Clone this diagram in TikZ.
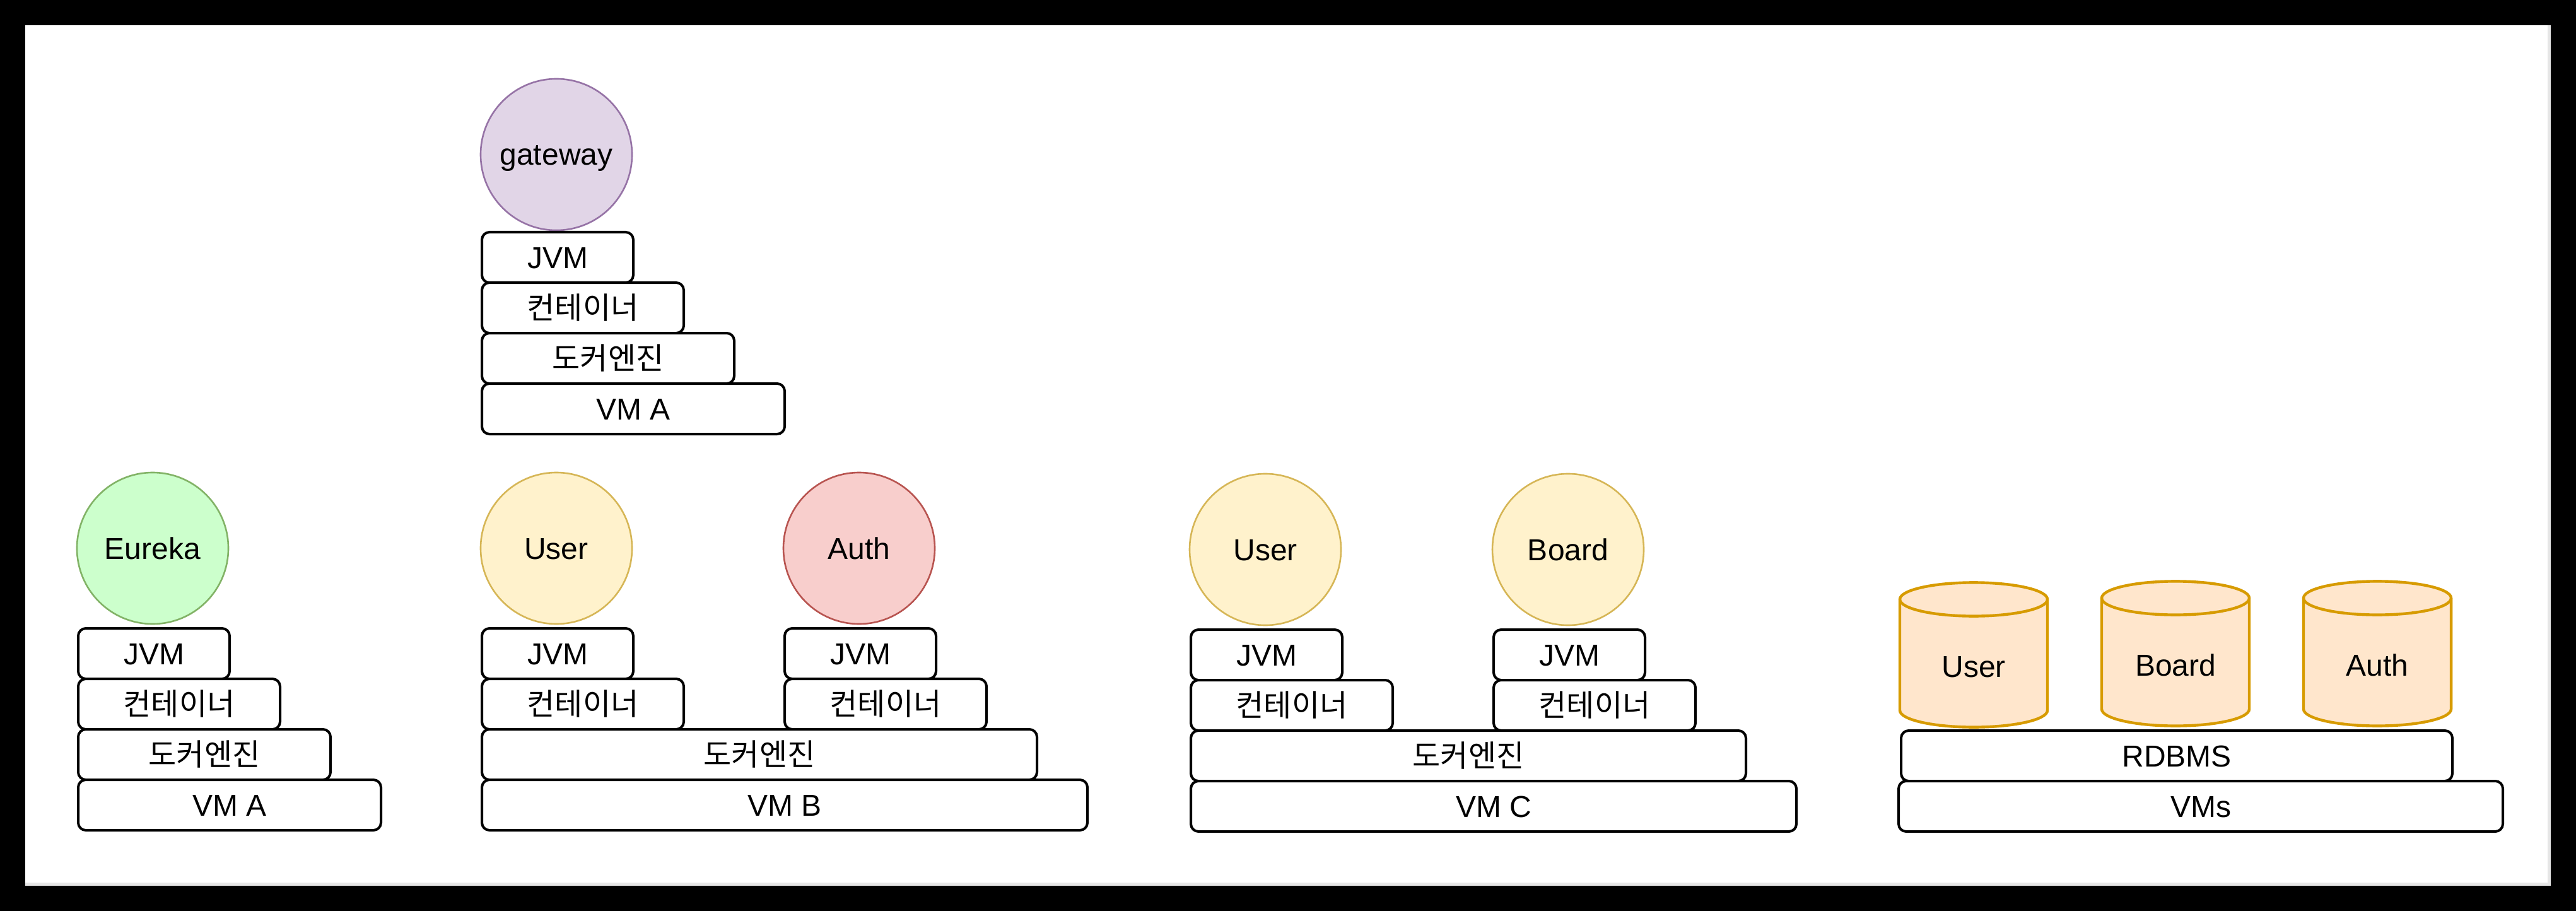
\documentclass[tikz,border=0pt]{standalone}
\usepackage{fontspec}
\setmainfont{Liberation Sans}
\newfontfamily\krfont{Noto Sans CJK KR}
\definecolor{gwfill}{HTML}{E1D5E7}
\definecolor{gwline}{HTML}{9673A6}
\definecolor{eufill}{HTML}{CCFFCC}
\definecolor{euline}{HTML}{82B366}
\definecolor{usfill}{HTML}{FFF2CC}
\definecolor{usline}{HTML}{D6B656}
\definecolor{aufill}{HTML}{F8CECC}
\definecolor{auline}{HTML}{B85450}
\definecolor{dbfill}{HTML}{FFE6CC}
\definecolor{dbline}{HTML}{D79B00}
\definecolor{pageedge}{HTML}{E6E6E6}

\begin{document}
\begin{tikzpicture}[x=1pt, y=-1pt,
    every node/.style={font=\fontsize{24}{29}\selectfont, text height=17pt, text depth=0pt, inner sep=0pt},
    layer/.style={draw=black, line width=2pt, rounded corners=6pt, fill=white, minimum height=40pt, anchor=north west},
    svc/.style={circle, line width=1.3pt, minimum size=120pt},
    dbcyl/.style={draw=dbline, fill=dbfill, line width=2.2pt}]
    % page
    \fill[black] (0,0) rectangle (2042,722);
    \fill[white] (20,20) rectangle (2022,702);
    \fill[pageedge] (2019.5,20) rectangle (2022,702);
    \fill[pageedge] (20,699.5) rectangle (2022,702);

    % gateway on VM A
    \node[svc, draw=gwline, fill=gwfill] (gateway) at (441,122.5) {gateway};
    \node[layer, minimum width=120pt] (gwJvm)    at (381,183) {JVM};
    \node[layer, minimum width=160pt] (gwCtr)    at (381,223) {\krfont 컨테이너};
    \node[layer, minimum width=200pt] (gwDocker) at (381,263) {\krfont 도커엔진};
    \node[layer, minimum width=240pt] (gwVm)     at (381,303) {VM A};

    % eureka on VM A
    \node[svc, draw=euline, fill=eufill] (eureka) at (121,434.5) {Eureka};
    \node[layer, minimum width=120pt] (euJvm)    at (61,497) {JVM};
    \node[layer, minimum width=160pt] (euCtr)    at (61,537) {\krfont 컨테이너};
    \node[layer, minimum width=200pt] (euDocker) at (61,577) {\krfont 도커엔진};
    \node[layer, minimum width=240pt] (euVm)     at (61,617) {VM A};

    % VM B
    \node[svc, draw=usline, fill=usfill] (userB) at (441,434.5) {User};
    \node[svc, draw=auline, fill=aufill] (authB) at (681,434.5) {Auth};
    \node[layer, minimum width=120pt] (userBJvm) at (381,497) {JVM};
    \node[layer, minimum width=160pt] (userBCtr) at (381,537) {\krfont 컨테이너};
    \node[layer, minimum width=120pt] (authBJvm) at (621,497) {JVM};
    \node[layer, minimum width=160pt] (authBCtr) at (621,537) {\krfont 컨테이너};
    \node[layer, minimum width=440pt] (dockerB)  at (381,577) {\krfont 도커엔진};
    \node[layer, minimum width=480pt] (vmB)      at (381,617) {VM B};

    % VM C
    \node[svc, draw=usline, fill=usfill] (userC)  at (1003,435.5) {User};
    \node[svc, draw=usline, fill=usfill] (boardC) at (1243,435.5) {Board};
    \node[layer, minimum width=120pt] (userCJvm)  at (943,498) {JVM};
    \node[layer, minimum width=160pt] (userCCtr)  at (943,538) {\krfont 컨테이너};
    \node[layer, minimum width=120pt] (boardCJvm) at (1183,498) {JVM};
    \node[layer, minimum width=160pt] (boardCCtr) at (1183,538) {\krfont 컨테이너};
    \node[layer, minimum width=440pt] (dockerC)   at (943,578) {\krfont 도커엔진};
    \node[layer, minimum width=480pt] (vmC)       at (943,618) {VM C};

    % databases
    \filldraw[dbcyl] (1506,475) -- (1506,563) arc[start angle=180, end angle=0, x radius=58.5, y radius=13.3]
        -- (1623,475) arc[start angle=0, end angle=-180, x radius=58.5, y radius=13.3] -- cycle;
    \draw[dbcyl, fill=none] (1506,475) arc[start angle=180, end angle=0, x radius=58.5, y radius=13.3];
    \node (dbUser) at (1564.5,528) {User};

    \filldraw[dbcyl] (1666,474) -- (1666,562) arc[start angle=180, end angle=0, x radius=58.5, y radius=13.3]
        -- (1783,474) arc[start angle=0, end angle=-180, x radius=58.5, y radius=13.3] -- cycle;
    \draw[dbcyl, fill=none] (1666,474) arc[start angle=180, end angle=0, x radius=58.5, y radius=13.3];
    \node (dbBoard) at (1724.5,527) {Board};

    \filldraw[dbcyl] (1826,474) -- (1826,562) arc[start angle=180, end angle=0, x radius=58.5, y radius=13.3]
        -- (1943,474) arc[start angle=0, end angle=-180, x radius=58.5, y radius=13.3] -- cycle;
    \draw[dbcyl, fill=none] (1826,474) arc[start angle=180, end angle=0, x radius=58.5, y radius=13.3];
    \node (dbAuth) at (1884.5,527) {Auth};

    \node[layer, minimum width=437pt] (rdbms) at (1506,578) {RDBMS};
    \node[layer, minimum width=479pt] (vms)   at (1504,618) {VMs};
\end{tikzpicture}
\end{document}
